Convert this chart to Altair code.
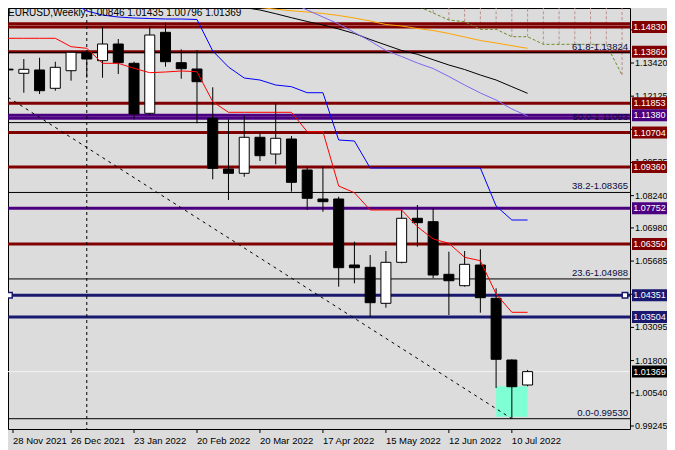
import altair as alt
import pandas as pd

FONT = "Liberation Sans"

# ---------------- data ----------------
# weekly EURUSD candles, index 0 = week of 28 Nov 2021
candle_idx = list(range(34))
opens = [1.13180, 1.13018, 1.13147, 1.12432, 1.13119, 1.13838, 1.13510, 1.14162, 1.13408, 1.11456,
         1.14619, 1.13432, 1.13186, 1.11261, 1.09281, 1.09113, 1.10519, 1.09866, 1.10452, 1.09242,
         1.08109, 1.08109, 1.05532, 1.05442, 1.04036, 1.05637, 1.07356, 1.07223, 1.05169, 1.04724,
         1.05532, 1.04232, 1.01822, 1.00846]
highs = [1.13860, 1.13576, 1.13627, 1.13471, 1.13850, 1.13880, 1.14838, 1.14357, 1.13471, 1.14865,
         1.14994, 1.13955, 1.13928, 1.12471, 1.11222, 1.11362, 1.10714, 1.11846, 1.10569, 1.09347,
         1.09347, 1.08199, 1.06442, 1.05922, 1.06079, 1.07680, 1.07875, 1.07746, 1.06051, 1.06079,
         1.06145, 1.04622, 1.01850, 1.01435]
lows = [1.12370, 1.12260, 1.12209, 1.12338, 1.12729, 1.12850, 1.12846, 1.12990, 1.11222, 1.11362,
        1.13276, 1.12807, 1.11065, 1.08878, 1.08070, 1.08980, 1.09593, 1.09464, 1.08394, 1.07680,
        1.07613, 1.04685, 1.04817, 1.03513, 1.03865, 1.05598, 1.06247, 1.05013, 1.03579, 1.04685,
        1.03669, 1.00729, 0.99530, 1.00796]
closes = [1.13150, 1.13174, 1.12338, 1.13252, 1.13838, 1.13576, 1.14162, 1.13432, 1.11428, 1.14513,
          1.13471, 1.13197, 1.12690, 1.09308, 1.09113, 1.10519, 1.09800, 1.10480, 1.08761, 1.08137,
          1.08004, 1.05427, 1.05427, 1.04060, 1.05637, 1.07356, 1.07184, 1.05141, 1.04918, 1.05559,
          1.04255, 1.01850, 1.00779, 1.01369]

# indicator lines
tenkan_idx = list(range(0, 34))
tenkan = [1.14385, 1.14385, 1.14385, 1.14385, 1.14057, 1.13994, 1.13408, 1.13408, 1.13213, 1.13041,
          1.13069, 1.13108, 1.13080, 1.11909, 1.11495, 1.11495, 1.11495, 1.11495, 1.11495, 1.10737,
          1.10737, 1.08617, 1.08355, 1.07680, 1.07680, 1.07680, 1.07028, 1.06547, 1.06379, 1.05833,
          1.05700, 1.04399, 1.03685, 1.03685]
kijun_idx = list(range(4, 34))
kijun = [1.15802, 1.15451, 1.15294, 1.15216, 1.15177, 1.15158, 1.15138, 1.15138, 1.15119, 1.13889,
         1.13264, 1.12834, 1.12756, 1.12561, 1.12495, 1.12260, 1.12260, 1.10413, 1.10374, 1.09320,
         1.09320, 1.09320, 1.09320, 1.09320, 1.09320, 1.09320, 1.09320, 1.07836, 1.07289, 1.07289]
ma_black_idx = list(range(13, 34))
ma_black = [1.15841, 1.15685, 1.15587, 1.15490, 1.15345, 1.15189, 1.15041, 1.14904, 1.14748, 1.14572,
            1.14338, 1.14123, 1.13908, 1.13760, 1.13549, 1.13342, 1.13166, 1.12951, 1.12756, 1.12495,
            1.12237]
ma_orange_idx = list(range(14, 34))
ma_orange = [1.15744, 1.15665, 1.15587, 1.15521, 1.15458, 1.15412, 1.15353, 1.15275, 1.15177, 1.15060,
             1.14923, 1.14865, 1.14767, 1.14689, 1.14572, 1.14435, 1.14299, 1.14201, 1.14096, 1.13994]
ma_slate_idx = list(range(17, 34))
ma_slate = [1.16036, 1.15763, 1.15490, 1.15216, 1.14943, 1.14611, 1.14279, 1.13908, 1.13674, 1.13420,
            1.13205, 1.12893, 1.12561, 1.12249, 1.11975, 1.11624, 1.11350]
span_b_idx = list(range(25, 40))
span_b = [1.15958, 1.15646, 1.15373, 1.15099, 1.15033, 1.14736, 1.14736, 1.14447, 1.14447, 1.14150,
          1.14150, 1.14150, 1.14150, 1.14150, 1.12951]
cloud_start = 27

# horizontal levels
level_prices = [1.14950, 1.14830, 1.13860, 1.11853, 1.11380, 1.11260, 1.10704, 1.09360, 1.07752,
                1.06350, 1.04351, 1.03504]
level_colors = ["#800000", "#800000", "#800000", "#800000", "#4B0082", "#4B0082", "#800000",
                "#800000", "#4B0082", "#800000", "#191970", "#191970"]
tag_prices = [1.14830, 1.13860, 1.11853, 1.11380, 1.10704, 1.09360, 1.07752, 1.06350, 1.04351,
              1.03504, 1.01369]
tag_colors = ["#800000", "#800000", "#800000", "#4B0082", "#800000", "#800000", "#4B0082",
              "#800000", "#191970", "#191970", "#000000"]
fib_pct = ["61.8", "50.0", "38.2", "23.6", "0.0"]
fib_prices = [1.13824, 1.11093, 1.08365, 1.04988, 0.99530]
bid_price = 1.01369
selected_level = 1.04351

zone_idx = [31, 33]
zone_prices = [1.00796, 0.99610]
separator_idx = [5]
trend_idx = [0, 32]
trend_prices = [1.12081, 0.99530]

date_labels = ["28 Nov 2021", "26 Dec 2021", "23 Jan 2022", "20 Feb 2022", "20 Mar 2022",
               "17 Apr 2022", "15 May 2022", "12 Jun 2022", "10 Jul 2022"]
date_tick_idx = [0, 4, 8, 12, 16, 20, 24, 28, 32]
# all price ticks; the labels of the ticks hidden under price tags are not printed
y_tick_values = [1.14715, 1.13420, 1.12125, 1.10830, 1.09535, 1.08240, 1.06980, 1.05685, 1.04390,
                 1.03095, 1.01800, 1.00540, 0.99245]
y_label_values = [1.13420, 1.12125, 1.09535, 1.08240, 1.06980, 1.05685,
                  1.03095, 1.01800, 1.00540, 0.99245]
title_text = "EURUSD,Weekly  1.00846 1.01435 1.00796 1.01369"

# ---------------- scales ----------------
W, H = 622, 421
X_DOMAIN = [0.3125, 39.1875]
Y_DOMAIN = [0.99128, 1.15568]
xsc = alt.Scale(domain=X_DOMAIN, nice=False, zero=False)
ysc = alt.Scale(domain=Y_DOMAIN, nice=False, zero=False)


def X(f):
    return alt.X(f, type="quantitative", scale=xsc, axis=None)


def Y(f):
    return alt.Y(f, type="quantitative", scale=ysc, axis=None)


# ---------------- tables ----------------
candles = pd.DataFrame({"i": candle_idx, "o": opens, "h": highs, "l": lows, "c": closes})
candles["fill"] = ["white" if c >= o else "black" for o, c in zip(opens, closes)]

series = []
for name, col, idx, vals in [("tenkan", "#FF0000", tenkan_idx, tenkan),
                             ("kijun", "#0000FF", kijun_idx, kijun),
                             ("ma_black", "#000000", ma_black_idx, ma_black),
                             ("ma_orange", "#FFA500", ma_orange_idx, ma_orange),
                             ("ma_slate", "#7B68EE", ma_slate_idx, ma_slate)]:
    for i, v in zip(idx, vals):
        series.append({"i": i, "v": v, "s": name, "col": col})
lines_df = pd.DataFrame(series)
spanb_df = pd.DataFrame({"i": span_b_idx, "v": span_b})
cloud_df = spanb_df[spanb_df["i"] >= cloud_start]
levels_df = pd.DataFrame({"p": level_prices, "col": level_colors})
tags_df = pd.DataFrame({"p": tag_prices, "col": tag_colors,
                        "t": [f"{p:.5f}" for p in tag_prices]})
fib_df = pd.DataFrame({"p": fib_prices, "t": [f"{a}-{p:.5f}" for a, p in zip(fib_pct, fib_prices)]})
zone_df = pd.DataFrame({"x0": [zone_idx[0]], "x1": [zone_idx[1]],
                        "p0": [zone_prices[0]], "p1": [zone_prices[1]]})
sep_df = pd.DataFrame({"i": separator_idx})
trend_df = pd.DataFrame({"i": trend_idx, "p": trend_prices})
bid_df = pd.DataFrame({"p": [bid_price]})
sel_df = pd.DataFrame({"p": [selected_level]})
title_df = pd.DataFrame({"t": [title_text]})
ytick_df = pd.DataFrame({"p": y_tick_values})
ylabel_df = pd.DataFrame({"p": y_label_values, "t": [f"{v:.5f}" for v in y_label_values]})
xtick_df = pd.DataFrame({"i": [max(i, X_DOMAIN[0]) for i in date_tick_idx], "t": date_labels})

# ---------------- layers ----------------
zone = alt.Chart(zone_df).mark_rect(color="#7FFFD4", opacity=1).encode(
    x=X("x0"), x2="x1", y=Y("p0"), y2="p1")

cloud = alt.Chart(cloud_df).mark_rule(color="#BC8F8F", strokeDash=[3, 2], strokeWidth=1, clip=True).encode(
    x=X("i"), y=Y("v"), y2=alt.Y2Datum(Y_DOMAIN[1]))

levels = alt.Chart(levels_df).mark_rule(strokeWidth=3).encode(
    y=Y("p"), color=alt.Color("col:N", scale=None))

fibs = alt.Chart(fib_df).mark_rule(color="black", strokeWidth=1).encode(y=Y("p"))

bid = alt.Chart(bid_df).mark_rule(color="#F4F4F4", strokeWidth=1).encode(y=Y("p"))

sep = alt.Chart(sep_df).mark_rule(color="black", strokeDash=[3, 3], strokeWidth=1).encode(x=X("i"))

trend = alt.Chart(trend_df).mark_line(color="black", strokeDash=[3, 4], strokeWidth=1, clip=True).encode(
    x=X("i"), y=Y("p"))

wicks = alt.Chart(candles).mark_rule(color="black", strokeWidth=1, clip=True).encode(
    x=X("i"), y=Y("l"), y2="h")

bodies = alt.Chart(candles).mark_bar(size=10, stroke="black", strokeWidth=1, clip=True, opacity=1).encode(
    x=X("i"), y=Y("o"), y2="c", fill=alt.Fill("fill:N", scale=None))

ind = alt.Chart(lines_df).mark_line(strokeWidth=1, clip=True).encode(
    x=X("i"), y=Y("v"), color=alt.Color("col:N", scale=None), detail="s:N")

spanb = alt.Chart(spanb_df).mark_line(color="#6B8E23", strokeDash=[3, 2], strokeWidth=1, clip=True).encode(
    x=X("i"), y=Y("v"))

fib_text = alt.Chart(fib_df).mark_text(align="right", baseline="bottom", dy=-1, font=FONT,
                                       fontSize=9.5, color="#0A0A3C").encode(
    x=alt.value(W - 2), y=Y("p"), text="t:N")

# price axis (right)
ytick_marks = alt.Chart(ytick_df).mark_rule(color="black", strokeWidth=1).encode(
    x=alt.value(W), x2=alt.value(W + 4), y=Y("p"))
ytick_text = alt.Chart(ylabel_df).mark_text(align="left", baseline="middle", font=FONT,
                                            fontSize=9, color="black").encode(
    x=alt.value(W + 5), y=Y("p"), text="t:N")

# time axis (bottom)
xtick_marks = alt.Chart(xtick_df).mark_rule(color="black", strokeWidth=1).encode(
    x=X("i"), y=alt.value(H), y2=alt.value(H + 4))
xtick_text = alt.Chart(xtick_df).mark_text(align="left", baseline="top", font=FONT,
                                           fontSize=9.5, color="black").encode(
    x=X("i"), y=alt.value(H + 7), text="t:N")

tags = alt.Chart(tags_df).mark_tick(orient="horizontal", size=35, thickness=12, opacity=1).encode(
    x=alt.value(W + 19.5), y=Y("p"), color=alt.Color("col:N", scale=None))
tag_text = alt.Chart(tags_df).mark_text(align="center", baseline="middle", font=FONT, fontSize=9,
                                        color="white").encode(
    x=alt.value(W + 19.5), y=Y("p"), text="t:N")

sel_l = alt.Chart(sel_df).mark_square(size=30, fill="white", stroke="#191970", strokeWidth=1.5,
                                      opacity=1).encode(x=alt.value(1.5), y=Y("p"))
sel_r = alt.Chart(sel_df).mark_square(size=30, fill="white", stroke="#191970", strokeWidth=1.5,
                                      opacity=1).encode(x=alt.value(W - 5), y=Y("p"))

title = alt.Chart(title_df).mark_text(align="left", baseline="top", font=FONT, fontSize=10,
                                      color="black").encode(
    x=alt.value(0), y=alt.value(0), text="t:N")

chart = alt.layer(
    zone, cloud, levels, fibs, bid, sep, trend, wicks, bodies, ind, spanb,
    fib_text, ytick_marks, ytick_text, xtick_marks, xtick_text,
    tags, tag_text, sel_l, sel_r, title
).properties(
    width=W, height=H,
    padding={"left": 0, "top": 0, "right": 37, "bottom": 21},
    autosize=alt.AutoSizeParams(type="none"),
).configure(
    background="#DCDCDC", font=FONT
).configure_view(
    stroke="black", strokeWidth=1
)

chart.save("out.html", embed_options={"renderer": "svg", "actions": False})
